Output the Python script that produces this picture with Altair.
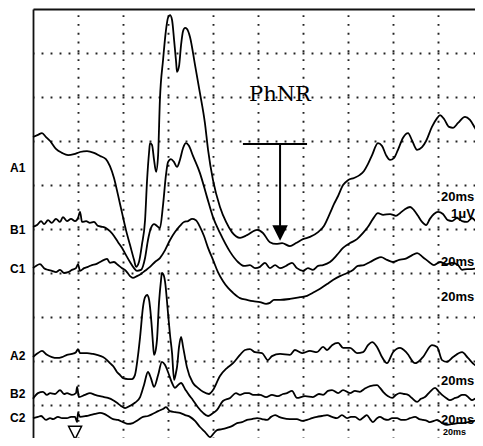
import altair as alt
import pandas as pd

# Time in ms from the left edge of the sweep (20 ms per division),
# amplitude in µV (1 µV per division).
A1 = [(0,7.09),(2.2,7.14),(4.0,7.18),(5.8,7.09),(7.6,7.00),(10.2,6.82),(12.9,6.73),(15.6,6.68),(18.2,6.70),
      (20.9,6.75),(24.0,6.77),(27.1,6.73),(29.8,6.66),(32.4,6.59),(34.2,6.43),(36.0,6.16),(37.8,5.77),(39.6,5.36),
      (41.3,4.98),(43.1,4.64),(44.9,4.30),(45.8,4.14),(47.1,4.25),(48.4,4.64),(49.8,5.20),(50.7,6.11),(51.6,6.75),
      (52.0,6.95),(52.9,6.91),(53.8,6.57),(54.7,6.30),(55.6,6.68),(56.4,7.93),(57.8,8.84),(59.1,9.52),(60.0,9.80),
      (60.9,9.86),(61.8,9.75),(62.7,9.30),(63.6,8.80),(64.0,8.57),(64.9,8.70),(65.8,9.18),(66.7,9.50),(67.6,9.57),
      (68.4,9.55),(69.8,9.36),(72.0,8.73),(74.2,8.09),(76.4,7.41),(77.8,6.80),(80.0,6.11),(83.1,5.50),(85.8,5.16),
      (88.4,4.93),(92.0,4.80),(95.1,4.86),(99.6,4.98),(102.2,4.91),(105.3,4.70),(108.0,4.66),(110.7,4.68),
      (114.2,4.61),(116.9,4.68),(120.0,4.77),(123.1,4.82),(126.7,4.93),(129.3,5.07),(132.0,5.36),(133.8,5.57),
      (135.6,5.75),(137.8,6.00),(140.0,6.11),(142.7,6.16),(145.3,6.23),(147.1,6.32),(148.9,6.48),(150.7,6.68),
      (153.3,6.95),(155.1,6.89),(156.9,6.68),(158.7,6.57),(160.4,6.61),(162.2,6.80),(164.4,7.07),(166.7,7.18),
      (168.4,7.02),(170.7,6.80),(172.9,6.86),(174.7,7.00),(177.3,7.32),(179.6,7.52),(180.9,7.59),(182.7,7.50),
      (184.9,7.32),(186.7,7.30),(188.9,7.41),(192.0,7.55),(194.2,7.48),(196.4,7.30),(198.2,7.14),(200.0,7.02)]

B1 = [(0,5.05),(1.8,5.09),(3.6,5.18),(4.9,5.11),(6.7,5.20),(8.4,5.14),(10.2,5.23),(12.0,5.16),(13.3,5.27),
      (15.1,5.18),(16.9,5.23),(18.7,5.18),(20.0,5.25),(20.9,5.39),(21.8,5.16),(23.6,5.18),(25.3,5.14),(27.1,5.16),
      (28.9,5.07),(30.7,5.05),(32.4,5.02),(34.2,4.95),(36.0,4.84),(37.8,4.70),(39.6,4.57),(41.3,4.41),(43.1,4.25),
      (44.9,4.11),(46.2,4.05),(48.0,4.07),(49.8,4.34),(51.1,4.75),(52.4,5.02),(53.8,5.11),(55.1,5.07),(56.4,5.02),
      (57.8,5.55),(59.1,6.23),(60.0,6.52),(61.3,6.59),(62.7,6.52),(64.0,6.41),(65.3,6.57),(66.7,6.84),(68.0,6.95),
      (69.3,6.89),(71.1,6.66),(74.2,6.27),(77.3,5.73),(80.0,5.27),(83.1,4.91),(87.6,4.48),(91.1,4.25),(93.8,4.16),
      (96.4,4.18),(98.7,4.11),(100.9,4.14),(103.1,4.23),(105.3,4.11),(107.6,4.18),(109.8,4.11),(112.4,4.16),
      (115.1,4.23),(117.3,4.11),(120.0,4.05),(122.2,4.11),(124.4,4.07),(126.7,4.16),(128.9,4.18),(132.0,4.25),
      (135.1,4.41),(137.8,4.57),(140.9,4.68),(144.0,4.77),(146.7,4.91),(148.9,5.05),(151.1,5.23),(153.3,5.36),
      (155.6,5.32),(158.7,5.34),(161.3,5.30),(163.1,5.36),(165.3,5.45),(167.6,5.50),(169.3,5.43),(171.1,5.30),
      (172.9,5.16),(174.7,5.09),(176.4,5.23),(178.2,5.34),(180.0,5.39),(182.2,5.34),(184.4,5.20),(186.2,5.18),
      (188.4,5.25),(190.7,5.18),(192.9,5.16),(195.1,5.25),(197.3,5.16),(200.0,5.20)]

C1 = [(0,4.11),(1.3,4.16),(3.1,4.20),(4.9,4.11),(6.7,4.07),(8.4,4.05),(10.2,4.02),(12.0,4.07),(13.8,4.00),
      (15.6,4.02),(17.3,4.07),(19.1,4.11),(20.0,4.20),(20.9,4.05),(22.7,4.11),(24.4,4.14),(26.2,4.18),(28.0,4.20),
      (29.8,4.25),(31.6,4.30),(32.9,4.32),(34.2,4.23),(36.0,4.25),(37.8,4.18),(39.6,4.11),(41.3,4.05),(43.1,3.93),
      (44.4,3.89),(46.2,3.93),(48.0,3.98),(49.8,4.05),(52.0,4.14),(54.2,4.25),(56.4,4.34),(58.7,4.52),(60.9,4.75),
      (63.1,4.93),(65.3,5.07),(67.1,5.16),(68.9,5.18),(70.7,5.23),(72.4,5.20),(74.2,5.05),(76.0,4.84),(77.8,4.57),
      (80.0,4.30),(82.2,4.02),(84.4,3.82),(86.7,3.66),(88.9,3.55),(92.0,3.43),(95.1,3.39),(97.8,3.36),(100.9,3.34),
      (103.6,3.30),(105.3,3.32),(107.1,3.39),(109.8,3.39),(114.2,3.41),(118.7,3.45),(121.8,3.48),(124.4,3.55),
      (127.6,3.64),(130.7,3.75),(133.3,3.84),(136.4,3.93),(139.6,4.00),(142.2,4.07),(144.4,4.16),(147.1,4.18),
      (149.8,4.25),(152.4,4.32),(154.7,4.36),(157.3,4.30),(160.0,4.25),(162.7,4.30),(165.3,4.32),(168.0,4.39),
      (170.7,4.45),(173.3,4.36),(176.0,4.25),(178.2,4.18),(180.9,4.25),(183.6,4.20),(186.2,4.23),(188.9,4.18),
      (190.7,4.07),(192.9,4.09),(195.1,4.09),(197.3,4.11),(200.0,4.14)]

A2 = [(0,2.09),(2.2,2.18),(4.0,2.23),(6.2,2.14),(8.4,2.09),(10.7,2.07),(12.9,2.09),(15.1,2.14),(17.3,2.16),
      (19.1,2.20),(20.0,2.27),(20.9,2.18),(24.0,2.18),(26.7,2.16),(28.4,2.14),(31.1,2.09),(32.9,2.02),(34.2,1.95),
      (36.0,1.86),(37.3,1.75),(38.7,1.68),(40.0,1.61),(42.2,1.59),(44.0,1.59),(45.3,1.68),(46.7,2.14),(47.6,2.55),
      (48.9,3.23),(49.8,3.45),(50.7,3.50),(51.6,3.39),(52.0,3.23),(52.9,2.70),(53.3,2.41),(53.8,2.14),(54.7,2.30),
      (55.1,2.48),(56.0,3.32),(56.9,3.84),(57.3,4.00),(58.2,3.93),(58.7,3.80),(60.0,3.09),(60.9,2.59),(61.8,2.18),
      (62.7,1.57),(63.6,1.75),(64.0,1.86),(64.9,2.32),(65.8,2.55),(66.7,2.32),(67.6,2.07),(68.4,1.86),(71.1,1.50),
      (73.3,1.39),(75.6,1.30),(78.2,1.25),(80.0,1.34),(83.1,1.66),(86.2,1.84),(88.9,1.95),(92.0,2.14),(94.2,2.25),
      (96.4,2.27),(98.7,2.20),(101.8,2.18),(104.4,2.02),(106.2,2.11),(109.8,2.16),(114.2,2.14),(116.4,2.25),
      (119.6,2.18),(123.1,2.23),(126.2,2.20),(128.9,2.32),(130.7,2.25),(132.9,2.36),(135.6,2.41),(137.8,2.30),
      (140.9,2.30),(144.0,2.18),(146.7,2.20),(148.9,2.36),(150.7,2.43),(152.9,2.32),(155.1,2.09),(157.3,1.95),
      (160.0,2.20),(163.1,2.30),(166.2,2.18),(169.8,1.95),(173.3,2.09),(177.3,2.36),(179.6,2.32),(181.8,2.02),
      (184.0,1.98),(186.7,2.09),(190.7,2.20),(193.3,2.07),(196.4,1.91),(200.0,1.86)]

B2 = [(0,1.14),(2.2,1.27),(4.4,1.30),(6.2,1.23),(7.6,1.27),(9.8,1.25),(12.0,1.34),(13.8,1.25),(15.1,1.27),
      (17.3,1.23),(19.1,1.27),(19.6,1.41),(20.4,1.18),(23.1,1.23),(25.3,1.27),(27.6,1.23),(29.8,1.20),(31.6,1.18),
      (33.3,1.16),(35.6,1.11),(37.3,1.05),(39.1,0.98),(40.9,0.93),(43.1,0.98),(45.3,1.05),(47.6,1.18),(49.3,1.45),
      (51.1,1.75),(52.4,1.61),(53.8,1.41),(55.6,1.68),(57.3,1.98),(58.7,1.91),(60.0,1.75),(61.8,1.50),(63.1,1.39),
      (64.4,1.45),(65.8,1.50),(67.6,1.36),(69.3,1.23),(71.1,1.11),(73.3,0.95),(75.6,0.82),(77.8,0.75),(79.6,0.80),
      (81.8,0.89),(84.4,1.09),(87.6,1.16),(90.2,1.27),(92.0,1.23),(94.2,1.27),(96.0,1.27),(97.8,1.23),(100.9,1.23),
      (103.6,1.18),(106.2,1.23),(108.9,1.20),(111.1,1.25),(112.9,1.27),(115.1,1.32),(117.3,1.16),(120.9,1.20),
      (124.4,1.18),(127.1,1.25),(128.9,1.23),(131.1,1.32),(132.9,1.34),(135.6,1.27),(137.8,1.34),(140.9,1.27),
      (143.1,1.32),(145.3,1.30),(147.1,1.36),(149.8,1.43),(152.9,1.45),(154.2,1.39),(155.6,1.30),(157.8,1.20),
      (159.6,1.16),(161.3,1.23),(163.1,1.27),(164.9,1.25),(166.7,1.23),(168.4,1.16),(170.7,1.07),(172.4,1.14),
      (174.2,1.18),(176.4,1.30),(178.7,1.39),(180.4,1.30),(181.8,1.23),(183.6,1.16),(185.3,1.11),(187.6,1.16),
      (188.9,1.18),(190.7,1.23),(192.0,1.23),(193.8,1.16),(195.1,1.11),(197.3,1.16),(200.0,1.16)]

C2 = [(0,0.70),(2.2,0.73),(3.6,0.75),(5.8,0.66),(7.6,0.70),(8.9,0.68),(11.1,0.73),(12.9,0.70),(15.1,0.70),
      (16.9,0.73),(18.7,0.73),(19.6,0.61),(20.0,0.82),(20.9,0.73),(23.6,0.75),(25.3,0.77),(27.6,0.80),(29.8,0.82),
      (31.6,0.80),(33.3,0.75),(35.6,0.68),(37.8,0.66),(40.0,0.61),(42.2,0.57),(44.4,0.59),(46.7,0.66),(48.9,0.73),
      (51.1,0.75),(53.3,0.80),(55.6,0.86),(57.8,0.91),(59.1,0.95),(60.9,0.86),(63.1,0.84),(65.3,0.82),(67.6,0.77),
      (69.8,0.73),(72.0,0.64),(74.2,0.50),(76.4,0.39),(78.7,0.27),(80.4,0.36),(81.8,0.43),(84.0,0.45),(86.2,0.48),
      (88.4,0.52),(90.7,0.59),(92.9,0.61),(95.1,0.66),(97.3,0.68),(99.6,0.70),(101.8,0.68),(104.0,0.66),
      (105.8,0.73),(107.6,0.77),(109.3,0.73),(111.1,0.70),(114.2,0.68),(117.3,0.68),(119.6,0.64),(121.8,0.66),
      (124.0,0.70),(126.2,0.73),(128.4,0.75),(130.7,0.77),(132.9,0.73),(135.1,0.70),(137.3,0.77),(139.6,0.70),
      (141.3,0.73),(143.1,0.73),(145.3,0.66),(147.1,0.73),(148.4,0.77),(149.8,0.68),(151.1,0.61),(152.9,0.70),
      (154.2,0.73),(156.0,0.68),(157.8,0.66),(159.6,0.70),(161.8,0.70),(163.6,0.66),(165.3,0.66),(167.6,0.70),
      (169.8,0.73),(171.6,0.68),(173.3,0.66),(175.1,0.64),(176.4,0.61),(178.2,0.64),(179.6,0.66),(181.8,0.59),
      (184.0,0.55),(186.7,0.57),(188.9,0.59),(191.1,0.59),(193.3,0.61),(196.0,0.64),(197.8,0.66),(200.0,0.66)]

trace_names = ["A1", "B1", "C1", "A2", "B2", "C2"]
trace_label_v = [6.39, 4.98, 4.09, 2.11, 1.25, 0.70]
trace_label_t = -10.2

scale_texts = ["20ms", "1\u03bcV", "20ms", "20ms", "20ms", "20ms", "20ms"]
scale_t = [181.3, 185.8, 181.3, 181.3, 181.3, 181.3, 182.2]
scale_v = [5.73, 5.34, 4.25, 3.45, 1.55, 0.66, 0.39]
scale_size = [13, 13, 13, 13, 13, 13, 9]

phnr_text = "PhNR"
phnr_text_pos = (96.0, 7.91)
phnr_bar = (93.3, 121.8, 6.93)      # t start, t end, level
phnr_arrow = (109.8, 6.93, 5.07)    # t, from, to
phnr_head = (109.8, 4.91)
stimulus = (18.7, 0.37)

grid_t = [20, 40, 60, 80, 100, 120, 140, 160, 180]
grid_v = [1, 2, 3, 4, 5, 6, 7, 8, 9]

rows = []
for name, pts in zip(trace_names, [A1, B1, C1, A2, B2, C2]):
    for t, v in pts:
        rows.append({"trace": name, "t": t, "v": v})
traces = pd.DataFrame(rows)

# visible window of the sweep (the rest of the record runs off the page)
X = alt.X("t:Q", scale=alt.Scale(domain=[0, 196.44], nice=False, zero=False),
          axis=alt.Axis(orient="top", values=grid_t, grid=True, labels=False, ticks=False,
                        domain=True, domainColor="#111", domainWidth=1.8, title=None,
                        gridColor="#222", gridWidth=1.9, gridDash=[1.9, 6.9], gridDashOffset=0.95))
Y = alt.Y("v:Q", scale=alt.Scale(domain=[0.25, 10], nice=False, zero=False),
          axis=alt.Axis(orient="left", values=grid_v, grid=True, labels=False, ticks=False,
                        domain=True, domainColor="#111", domainWidth=1.8, title=None,
                        gridColor="#222", gridWidth=1.9, gridDash=[1.9, 7.1], gridDashOffset=0.95))

lines = alt.Chart(traces).mark_line(color="black", strokeWidth=1.8, interpolate="monotone").encode(
    x=X, y=Y, detail="trace:N", order="t:Q")

names_df = pd.DataFrame({"label": trace_names, "t": [trace_label_t] * 6, "v": trace_label_v})
names = alt.Chart(names_df).mark_text(align="left", baseline="middle", font="Liberation Sans",
                                      fontWeight="bold", fontSize=12, color="black").encode(
    x=X, y=Y, text="label:N")

scale_df = pd.DataFrame({"label": scale_texts, "t": scale_t, "v": scale_v, "fs": scale_size})
scales = alt.Chart(scale_df).mark_text(align="left", baseline="middle", font="Liberation Sans",
                                       fontWeight="bold", color="black").encode(
    x=X, y=Y, text="label:N",
    size=alt.Size("fs:Q", scale=None, legend=None))

phnr_df = pd.DataFrame({"label": [phnr_text], "t": [phnr_text_pos[0]], "v": [phnr_text_pos[1]]})
phnr = alt.Chart(phnr_df).mark_text(align="left", baseline="alphabetic", font="DejaVu Serif",
                                    fontSize=21, color="black").encode(x=X, y=Y, text="label:N")

bar_df = pd.DataFrame({"t": [phnr_bar[0], phnr_arrow[0]], "t2": [phnr_bar[1], phnr_arrow[0]],
                       "v": [phnr_bar[2], phnr_arrow[1]], "v2": [phnr_bar[2], phnr_arrow[2]]})
bars = alt.Chart(bar_df).mark_rule(color="black", strokeWidth=2).encode(
    x=X, x2="t2:Q", y=Y, y2="v2:Q")

head_df = pd.DataFrame({"t": [phnr_head[0]], "v": [phnr_head[1]]})
head = alt.Chart(head_df).mark_point(shape="M-1,-1L1,-1L0,1Z", size=240, filled=True,
                                     color="black", opacity=1).encode(x=X, y=Y)

stim_df = pd.DataFrame({"t": [stimulus[0]], "v": [stimulus[1]]})
stim = alt.Chart(stim_df).mark_point(shape="M-1,-1L1,-1L0,1Z", size=169, filled=False,
                                     stroke="black", strokeWidth=1.5, fill="white",
                                     opacity=1).encode(x=X, y=Y)

chart = alt.layer(lines, bars, head, stim, names, scales, phnr).properties(
    width=442, height=429,
    autosize=alt.AutoSizeParams(type="none"),
    padding={"left": 25, "top": 1, "right": 0, "bottom": 0},
    background="white",
).configure_view(stroke=None)

chart.save("out.html", embed_options={"renderer": "svg", "actions": False})
